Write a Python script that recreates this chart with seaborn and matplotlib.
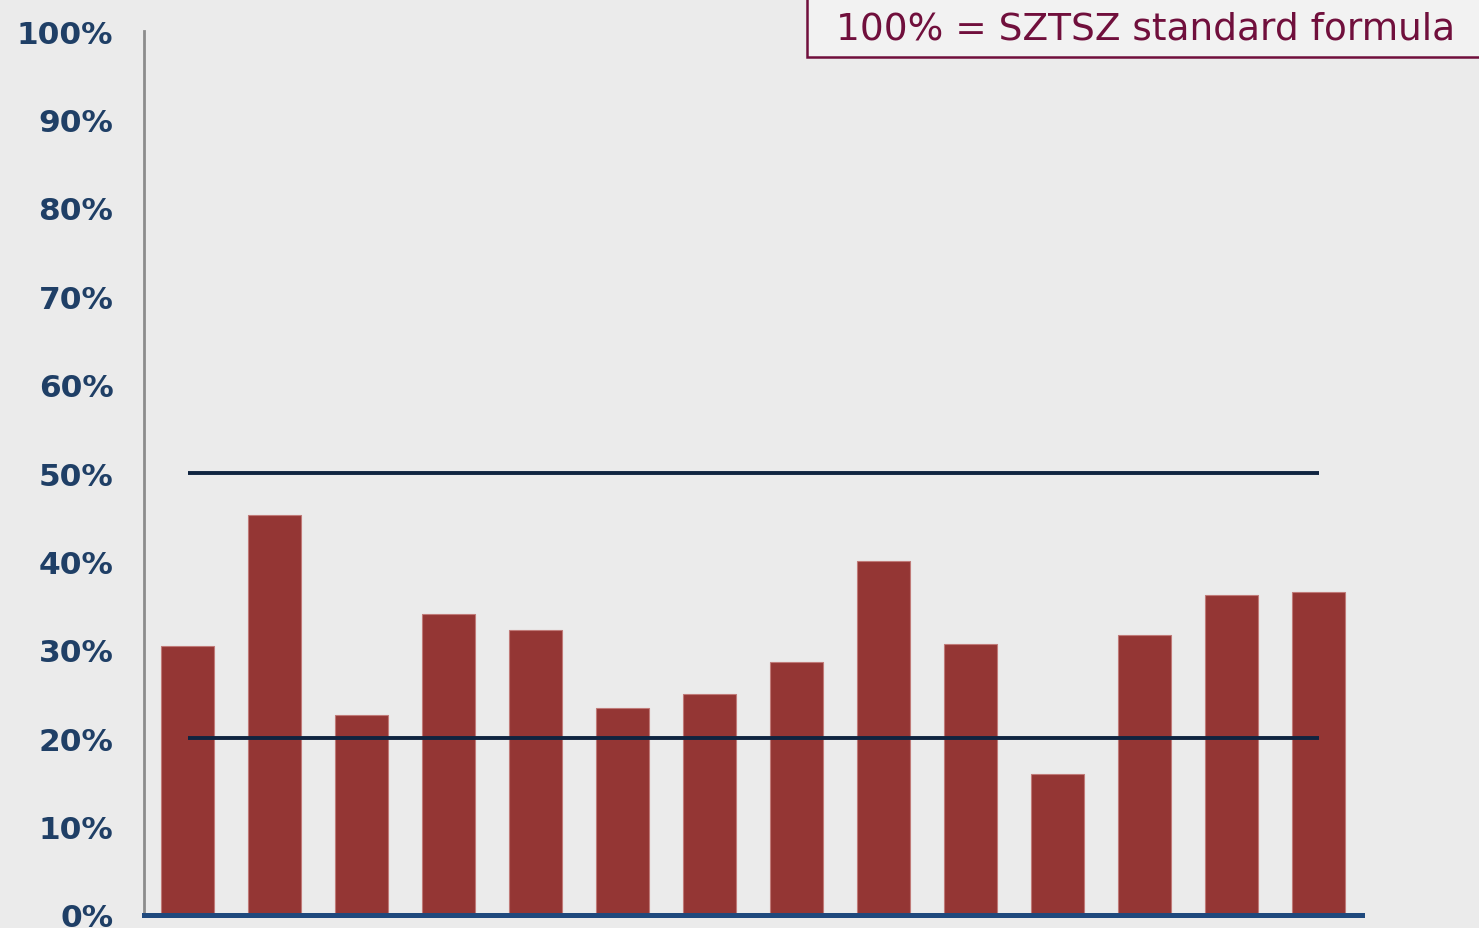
import matplotlib
matplotlib.use("Agg")
import matplotlib.pyplot as plt
import seaborn as sns
import pandas as pd
import numpy as np

# Data
categories = [f"C{i+1}" for i in range(14)]
values = [30.4, 45.2, 22.6, 34.0, 32.2, 23.4, 25.0, 28.6, 40.0, 30.7, 16.0, 31.7, 36.2, 36.5]
ref_levels = [50, 20]
y_ticks = [0, 10, 20, 30, 40, 50, 60, 70, 80, 90, 100]
y_tick_labels = [f"{t}%" for t in y_ticks]
note_text = "100% = SZTSZ standard formula"

BG = "#ebebeb"
BAR = "#943634"
NAVY = "#0f2440"
TICK = "#1f3f66"
MAROON = "#700f3c"

sns.set_theme(style="white")
plt.rcParams['font.family'] = ['DejaVu Sans']

W, H = 1479, 929
fig = plt.figure(figsize=(W / 100, H / 100), dpi=100, facecolor=BG)
ax = fig.add_axes([144 / W, 13 / H, (1362 - 144) / W, (916 - 32) / H])
ax.set_facecolor(BG)

df = pd.DataFrame({"cat": categories, "val": values})
sns.barplot(data=df, x="cat", y="val", color=BAR, width=0.6, saturation=1,
            edgecolor="#c07a78", linewidth=0.8, ax=ax, zorder=2)

for lvl in ref_levels:
    ax.hlines(lvl, 0, len(categories) - 1, colors=NAVY, linewidth=2.8, zorder=3)

ax.set_xlim(-0.5, len(categories) - 0.5)
ax.set_ylim(0, 100)
ax.set_yticks(y_ticks)
ax.set_yticklabels(y_tick_labels, fontsize=22.5, fontweight="bold", color=TICK)
ax.tick_params(axis="y", length=0, pad=22)
ax.set_xticks([])
ax.set_xlabel("")
ax.set_ylabel("")

for s in ["top", "right"]:
    ax.spines[s].set_visible(False)
ax.spines["left"].set_color("#8c8c8c")
ax.spines["left"].set_linewidth(2)
ax.spines["bottom"].set_color("#1f497d")
ax.spines["bottom"].set_linewidth(3.6)
ax.spines["bottom"].set_zorder(4)

# Note box
fig.patches.append(plt.Rectangle((807 / W, (929 - 58) / H), (W - 807 + 10) / W, 70 / H,
                                 transform=fig.transFigure, facecolor="#f2f2f2",
                                 edgecolor=MAROON, linewidth=1.8, zorder=5))
fig.text(1455 / W, (929 - 29) / H, note_text, ha="right", va="center",
         fontsize=27, color=MAROON, zorder=6)

fig.savefig("out.png", dpi=100, facecolor=BG)
